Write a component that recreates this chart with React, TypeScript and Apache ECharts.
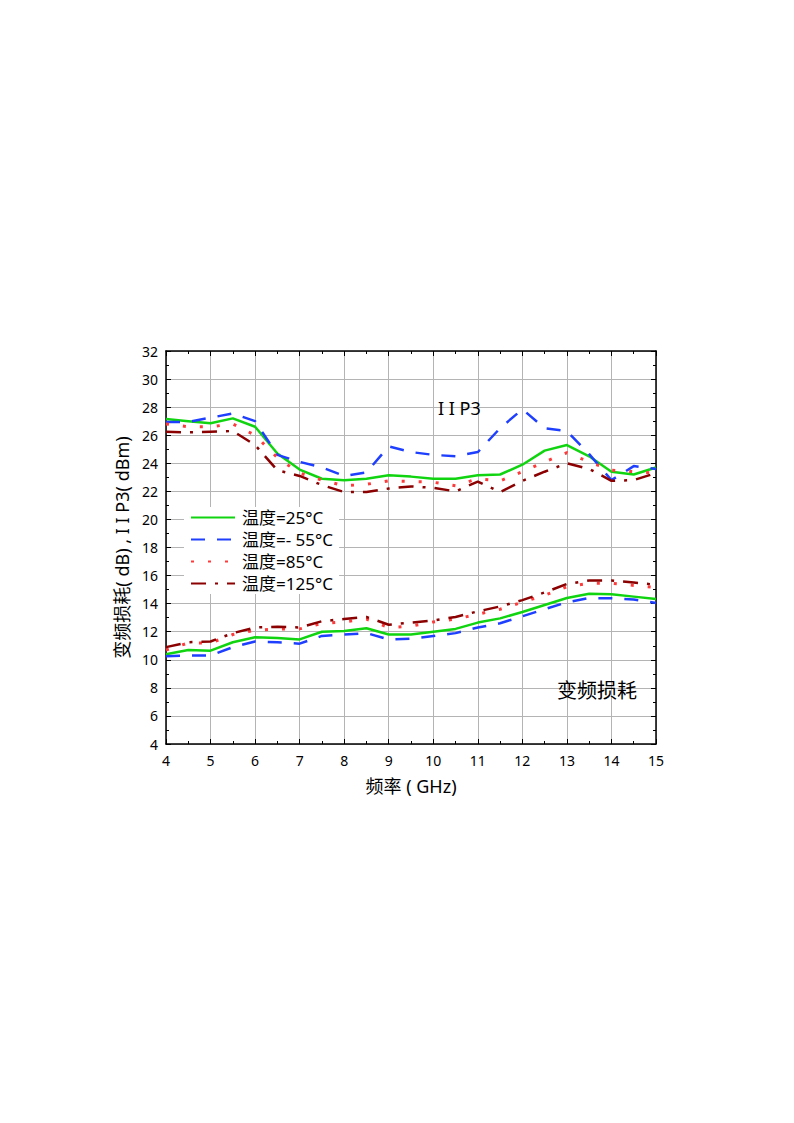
import React, { useEffect, useRef } from "react";
import * as echarts from "echarts";

const freq = [4, 4.5, 5, 5.5, 6, 6.5, 7, 7.5, 8, 8.5, 9, 9.5, 10, 10.5, 11, 11.5, 12, 12.5, 13, 13.5, 14, 14.5, 15];

// IIP3 (dBm)
const iip3_25 = [27.15, 27.0, 26.85, 27.2, 26.6, 24.7, 23.55, 22.9, 22.8, 22.9, 23.15, 23.05, 22.9, 22.9, 23.15, 23.2, 23.9, 24.9, 25.3, 24.5, 23.4, 23.2, 23.7];
const iip3_m55 = [26.95, 26.95, 27.25, 27.55, 27.0, 24.6, 24.1, 23.7, 23.1, 23.35, 25.2, 24.8, 24.6, 24.5, 24.8, 26.5, 27.85, 26.5, 26.3, 24.65, 22.8, 23.8, 23.6];
const iip3_85 = [26.8, 26.6, 26.6, 26.8, 26.0, 24.4, 23.3, 22.8, 22.4, 22.5, 22.75, 22.7, 22.65, 22.4, 22.9, 22.75, 23.4, 24.1, 24.75, 24.1, 23.5, 23.4, 23.3];
const iip3_125 = [26.25, 26.2, 26.25, 26.3, 25.3, 23.5, 23.1, 22.45, 21.95, 21.95, 22.2, 22.35, 22.25, 22.0, 22.7, 21.95, 22.75, 23.4, 24.0, 23.6, 22.75, 22.8, 23.3];

// 变频损耗 (dB)
const loss_25 = [10.4, 10.7, 10.65, 11.25, 11.6, 11.55, 11.45, 12.0, 12.05, 12.25, 11.8, 11.8, 12.0, 12.2, 12.65, 12.95, 13.4, 13.9, 14.4, 14.7, 14.67, 14.5, 14.33];
const loss_m55 = [10.25, 10.3, 10.3, 10.9, 11.3, 11.25, 11.15, 11.7, 11.8, 11.9, 11.45, 11.5, 11.7, 11.9, 12.3, 12.6, 13.1, 13.6, 14.1, 14.4, 14.38, 14.3, 14.05];
const loss_85 = [10.7, 11.2, 11.2, 11.8, 12.1, 12.2, 12.2, 12.6, 12.7, 12.9, 12.3, 12.4, 12.7, 12.9, 13.25, 13.6, 14.1, 14.6, 15.2, 15.45, 15.45, 15.3, 15.15];
const loss_125 = [10.9, 11.25, 11.3, 11.9, 12.3, 12.35, 12.3, 12.75, 12.9, 13.05, 12.5, 12.65, 12.8, 13.05, 13.45, 13.8, 14.25, 14.8, 15.4, 15.65, 15.65, 15.5, 15.35];

const names = ["温度=25°C", "温度=- 55°C", "温度=85°C", "温度=125°C"];
const xTitle = "频率 ( GHz)";
const yTitle = "变频损耗( dB) , I I P3( dBm)";

const FONT = "'Noto Sans', 'Noto Sans CJK SC', sans-serif";

const styles = [
  { color: "#11d411", width: 2.5, type: "solid" as any },
  { color: "#1f3fff", width: 2.5, type: [14, 12] as any },
  { color: "#ff3a3a", width: 3, type: [3, 14] as any },
  { color: "#8b0000", width: 2.5, type: [15, 9, 3, 9] as any },
];

function pairs(ys: number[]) {
  return freq.map((x, i) => [x, ys[i]]);
}

export default function App() {
  const ref = useRef<HTMLDivElement>(null);
  useEffect(() => {
    if (!ref.current) return;
    const chart = echarts.init(ref.current, undefined, { renderer: "svg" });
    const upper = [iip3_25, iip3_m55, iip3_85, iip3_125];
    const lower = [loss_25, loss_m55, loss_85, loss_125];
    const series: any[] = [];
    for (let k = 0; k < 4; k++) {
      for (const arr of [upper[k], lower[k]]) {
        series.push({
          type: "line",
          name: names[k],
          data: pairs(arr),
          xAxisIndex: 0,
          yAxisIndex: 0,
          symbol: "none",
          showSymbol: false,
          lineStyle: styles[k],
          itemStyle: { color: styles[k].color },
          z: 3,
        });
      }
    }
    const tickCommon = {
      axisLine: { show: true, onZero: false, lineStyle: { color: "#000", width: 1.5 } },
      axisTick: { show: true, inside: true, length: 5, lineStyle: { color: "#000", width: 1 } },
      minorTick: { show: true, splitNumber: 2, length: 3, lineStyle: { color: "#000", width: 1 } },
    };
    chart.setOption({
      animation: false,
      backgroundColor: "#fff",
      grid: { left: 166, right: 138, top: 351, bottom: 379, containLabel: false },
      legend: {
        orient: "vertical",
        left: 184,
        top: 507,
        backgroundColor: "#fff",
        padding: [2, 6, 2, 6],
        itemWidth: 44,
        itemHeight: 12,
        itemGap: 5,
        data: names,
        itemStyle: { opacity: 0, borderWidth: 0 },
        textStyle: { fontFamily: FONT, fontSize: 17, lineHeight: 17, color: "#000", padding: [0, 0, 0, 2] },
        z: 10,
      },
      xAxis: [
        {
          type: "value",
          min: 4,
          max: 15,
          interval: 1,
          position: "bottom",
          ...tickCommon,
          axisLabel: { show: true, color: "#000", fontSize: 14, fontFamily: FONT, margin: 9 },
          splitLine: { show: true, lineStyle: { color: "#b4b4b4", width: 1 } },
          name: xTitle,
          nameLocation: "middle",
          nameGap: 33,
          nameTextStyle: { color: "#000", fontSize: 18, fontFamily: FONT },
        },
        {
          type: "value",
          min: 4,
          max: 15,
          interval: 1,
          position: "top",
          ...tickCommon,
          axisLabel: { show: false },
          splitLine: { show: false },
        },
      ],
      yAxis: [
        {
          type: "value",
          min: 4,
          max: 32,
          interval: 2,
          position: "left",
          ...tickCommon,
          axisLabel: { show: true, color: "#000", fontSize: 14, fontFamily: FONT, margin: 8 },
          splitLine: { show: true, lineStyle: { color: "#b4b4b4", width: 1 } },
          name: yTitle,
          nameLocation: "middle",
          nameGap: 30,
          nameTextStyle: { color: "#000", fontSize: 18, fontFamily: FONT },
        },
        {
          type: "value",
          min: 4,
          max: 32,
          interval: 2,
          position: "right",
          ...tickCommon,
          axisLabel: { show: false },
          splitLine: { show: false },
        },
      ],
      graphic: [
        {
          type: "text",
          left: 438,
          top: 399,
          style: { text: "I I P3", fontSize: 18, fontFamily: FONT, fill: "#000" },
          z: 20,
        },
        {
          type: "text",
          left: 557,
          top: 680,
          style: { text: "变频损耗", fontSize: 20, fontFamily: FONT, fill: "#000" },
          z: 20,
        },
      ],
      series,
    });
    return () => chart.dispose();
  }, []);
  return (
    <div
      ref={ref}
      style={{ position: "absolute", left: 0, top: 0, width: 794, height: 1123 }}
    />
  );
}
